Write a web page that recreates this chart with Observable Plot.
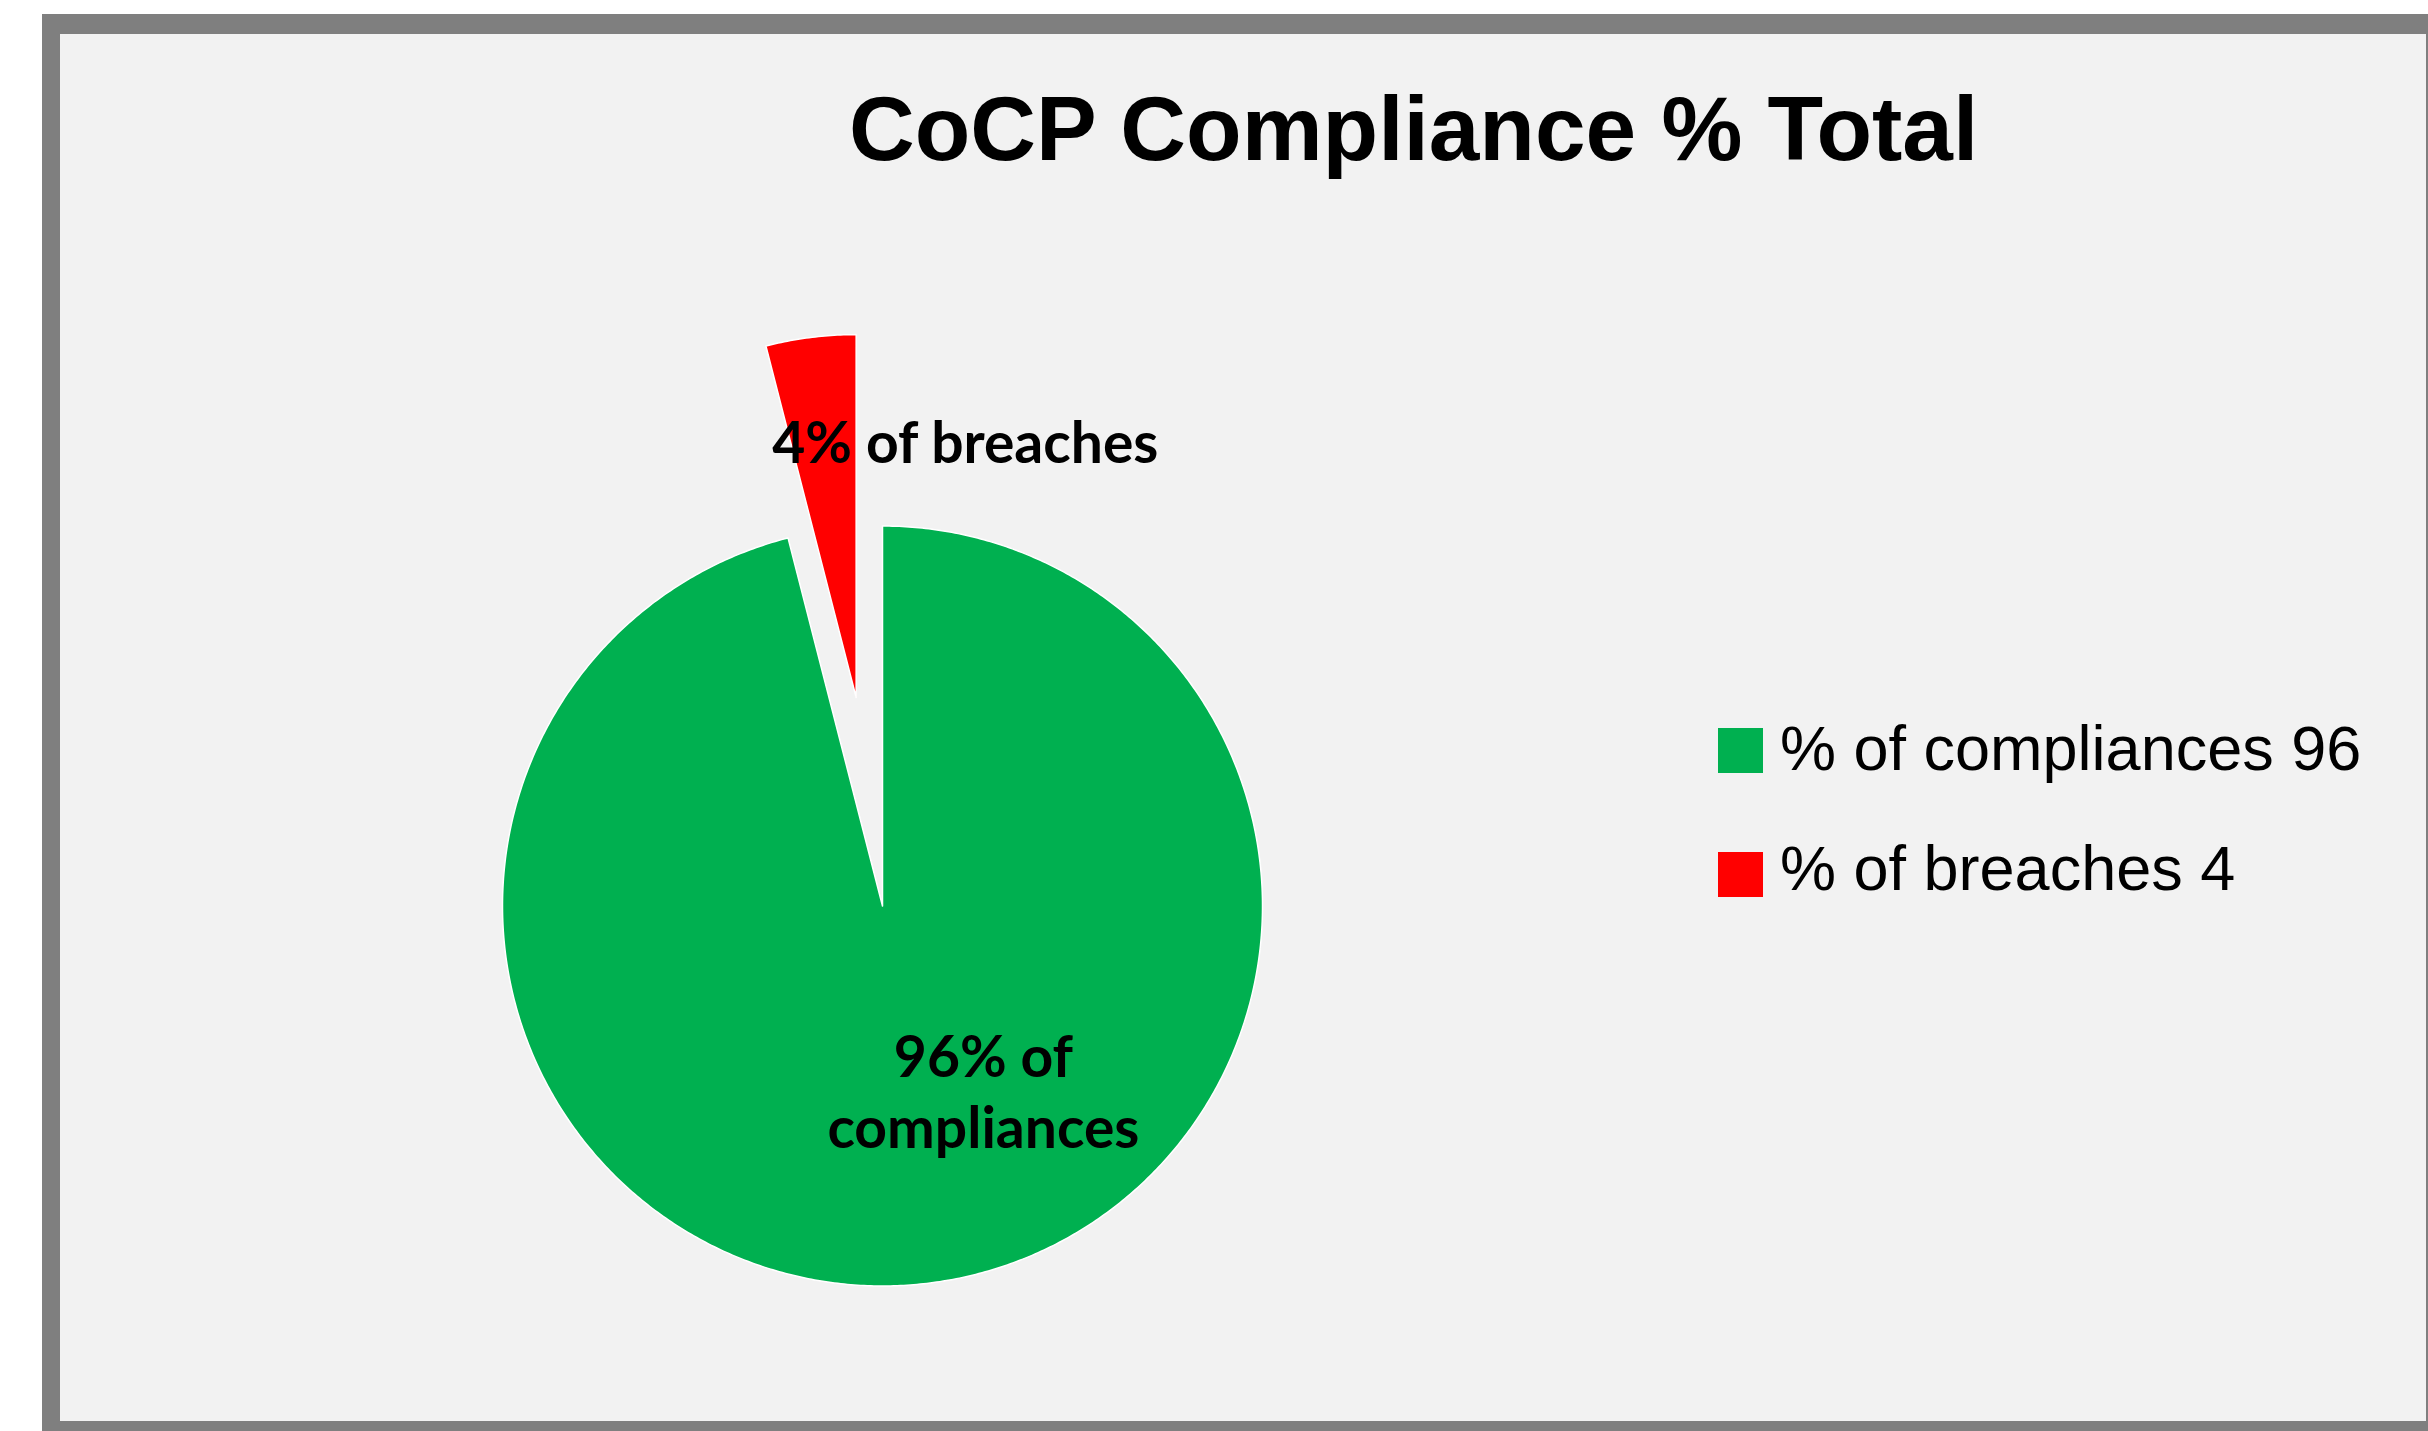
<!DOCTYPE html>
<html>
<head>
<meta charset="utf-8">
<script src="https://cdn.jsdelivr.net/npm/d3@7"></script>
<script src="https://cdn.jsdelivr.net/npm/@observablehq/plot@0.6"></script>
<style>
  html, body { margin: 0; padding: 0; background: #ffffff; width: 2428px; height: 1431px; overflow: hidden; }
  #frame { position: absolute; left: 42px; top: 14px; width: 2386px; height: 1417px; box-sizing: border-box;
           border-style: solid; border-color: #7f7f7f; border-width: 20px 2px 10px 18px; background: #f2f2f2; }
  #title { position: absolute; left: 849px; top: 83px; font: bold 91px/91px "Liberation Sans", Arial, sans-serif;
           white-space: pre; color: #000; }
  #chart { position: absolute; left: 60px; top: 200px; }
  .sw { position: absolute; left: 1718px; width: 45px; height: 45px; }
  .lt { position: absolute; left: 1780px; font: 63px/63px "Liberation Sans", Arial, sans-serif; white-space: pre; color: #000; }
</style>
</head>
<body>
<div id="frame"></div>
<div id="title"></div>
<div id="chart"></div>
<div id="legend"></div>
<script>
// ---- data ----
const categories = ["% of compliances", "% of breaches"];
const values = [96, 4];
const legendLabels = ["% of compliances 96", "% of breaches 4"];
const dataLabels = ["96% of\ncompliances", "4% of breaches"];
const titleText = "CoCP Compliance % Total";

// ---- styling / layout ----
const colors = ["#00b050", "#ff0000"];
const explode = [0, 0.553];      // offset of each slice, in pie radii
const sliceRadius = [1, 0.955];  // drawn radius of each slice, in pie radii
const labelPlacement = [{angle: 157.4, r: 0.691}, {angle: 10.6, r: 1.185}];
const W = 2366, H = 1221, cx = 822, cy = 705.5, R = 380;

document.getElementById("title").textContent = titleText;

const arcs = d3.pie().sort(null).value(d => d)(values);
const rows = [];
arcs.forEach((p, i) => {
  const cat = categories[i];
  const mid = (p.startAngle + p.endAngle) / 2;
  const ox = explode[i] * Math.sin(mid), oy = explode[i] * Math.cos(mid);
  const r = sliceRadius[i];
  rows.push({cat, x: ox, y: oy});
  const n = Math.max(2, Math.ceil((p.endAngle - p.startAngle) / (Math.PI / 360)));
  for (let k = 0; k <= n; k++) {
    const a = p.startAngle + (p.endAngle - p.startAngle) * k / n;
    rows.push({cat, x: ox + r * Math.sin(a), y: oy + r * Math.cos(a)});
  }
  rows.push({cat, x: ox, y: oy});
});

const labelRows = dataLabels.map((t, i) => {
  const a = labelPlacement[i].angle * Math.PI / 180;
  return {text: t, x: labelPlacement[i].r * Math.sin(a), y: labelPlacement[i].r * Math.cos(a)};
});

const chart = Plot.plot({
  width: W, height: H, margin: 0,
  x: {domain: [-cx / R, (W - cx) / R], axis: null},
  y: {domain: [-(H - cy) / R, cy / R], axis: null},
  color: {domain: categories, range: colors},
  style: {background: "transparent", overflow: "visible"},
  marks: [
    Plot.line(rows, {x: "x", y: "y", z: "cat", fill: "cat", stroke: "#ffffff", strokeWidth: 1.5, curve: "linear"}),
    Plot.text(labelRows, {x: "x", y: "y", text: "text", fontSize: 57, fontWeight: "bold",
      fontFamily: "Lato, 'Open Sans', sans-serif", lineAnchor: "bottom", lineHeight: 1.245, fill: "#000"})
  ]
});
document.getElementById("chart").appendChild(chart);

// legend
const legend = document.getElementById("legend");
const legendTop = [728, 852];
const textTop = [717, 837];
categories.forEach((c, i) => {
  const sw = document.createElement("div");
  sw.className = "sw";
  sw.style.top = legendTop[i] + "px";
  sw.style.background = colors[i];
  legend.appendChild(sw);
  const t = document.createElement("div");
  t.className = "lt";
  t.style.top = textTop[i] + "px";
  t.textContent = legendLabels[i];
  legend.appendChild(t);
});
</script>
</body>
</html>
